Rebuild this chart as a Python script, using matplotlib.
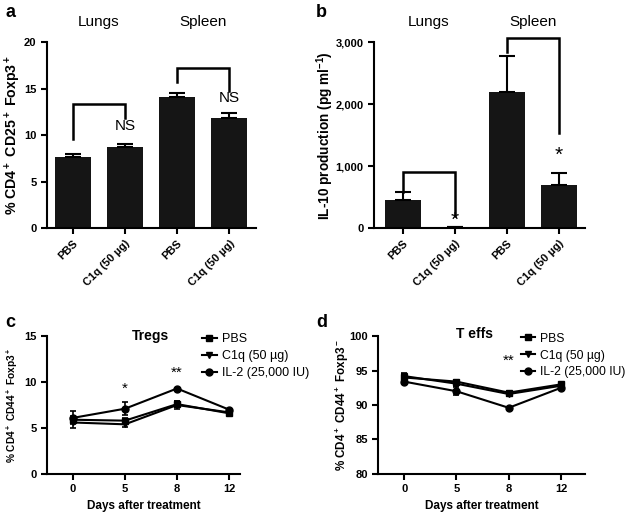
import numpy as np
import matplotlib
matplotlib.use('Agg')
import matplotlib.pyplot as plt
from matplotlib.lines import Line2D

plt.rcParams['font.family'] = ['Liberation Sans', 'DejaVu Sans']
plt.rcParams['mathtext.fontset'] = 'custom'
plt.rcParams['mathtext.rm'] = 'Liberation Sans:bold'
plt.rcParams['mathtext.bf'] = 'Liberation Sans:bold'
plt.rcParams['mathtext.default'] = 'bf'

# ---- data ----
bar_labels = ['PBS', 'C1q (50 µg)', 'PBS', 'C1q (50 µg)']
tregs_pct = [7.7, 8.7, 14.1, 11.9]
tregs_err = [0.3, 0.3, 0.4, 0.5]
il10 = [455, 15, 2190, 690]
il10_err = [125, 0, 580, 200]

days = ['0', '5', '8', '12']
treg_pbs = [5.9, 5.8, 7.6, 6.6]
treg_pbs_err = [0.4, 0.3, 0.3, 0.2]
treg_c1q = [5.6, 5.4, 7.5, 6.7]
treg_c1q_err = [0.6, 0.3, 0.4, 0.2]
treg_il2 = [6.1, 7.1, 9.3, 7.0]
treg_il2_err = [0.7, 0.7, 0.1, 0.1]

teff_pbs = [94.0, 93.4, 91.8, 93.0]
teff_pbs_err = [0.5, 0.3, 0.3, 0.2]
teff_c1q = [94.2, 93.1, 91.6, 92.8]
teff_c1q_err = [0.4, 0.3, 0.3, 0.2]
teff_il2 = [93.4, 92.0, 89.6, 92.5]
teff_il2_err = [0.3, 0.6, 0.1, 0.2]

fig = plt.figure(figsize=(6.25, 5.14), dpi=100)


def style(ax):
    for s in ['top', 'right']:
        ax.spines[s].set_visible(False)
    for s in ['left', 'bottom']:
        ax.spines[s].set_linewidth(1.5)
    ax.tick_params(width=1.5, length=4, labelsize=8)
    for t in ax.get_yticklabels() + ax.get_xticklabels():
        t.set_fontweight('bold')


def ylab(ax, text, size, xpos):
    ax.set_ylabel(text, fontsize=size, fontweight='bold')
    ax.yaxis.set_label_coords(xpos, 0.5)
    ax.yaxis.label.set_verticalalignment('center')


def bracket(ax, x0, x1, y_top, y0, y1):
    ax.plot([x0, x0, x1, x1], [y0, y_top, y_top, y1], color='black', lw=1.8,
            clip_on=False, solid_joinstyle='miter')


# ---- panel a ----
ax = fig.add_axes([0.075, 0.556, 0.335, 0.362])
x = np.arange(4)
ax.bar(x, tregs_pct, width=0.69, color='#151515')
ax.errorbar(x, tregs_pct, yerr=[np.zeros(4), tregs_err], fmt='none', ecolor='black',
            capsize=6, elinewidth=1.5, capthick=1.5)
ax.set_xlim(-0.5, 3.52)
ax.set_ylim(0, 20)
ax.set_yticks([0, 5, 10, 15, 20])
ax.set_xticks(x)
ax.set_xticklabels(bar_labels, rotation=45, ha='right', rotation_mode='anchor')
ylab(ax, '% CD4$^+$ CD25$^+$ Foxp3$^+$', 10.2, -0.163)
style(ax)
bracket(ax, 0, 1, 13.4, 9.6, 11.9)
bracket(ax, 2, 3, 17.2, 15.7, 14.8)
ax.text(1, 10.2, 'NS', ha='center', va='bottom', fontsize=11)
ax.text(3, 13.2, 'NS', ha='center', va='bottom', fontsize=11)
ax.text(0.5, 1.07, 'Lungs', transform=ax.get_xaxis_transform(), ha='center', va='bottom', fontsize=11)
ax.text(2.5, 1.07, 'Spleen', transform=ax.get_xaxis_transform(), ha='center', va='bottom', fontsize=11)
fig.text(0.008, 0.975, 'a', fontsize=13, fontweight='bold', va='center')

# ---- panel b ----
ax = fig.add_axes([0.598, 0.556, 0.338, 0.362])
ax.bar(x, il10, width=0.69, color='#151515')
ax.errorbar(x, il10, yerr=[np.zeros(4), il10_err], fmt='none', ecolor='black',
            capsize=6, elinewidth=1.5, capthick=1.5)
ax.set_xlim(-0.56, 3.5)
ax.set_ylim(0, 3000)
ax.set_yticks([0, 1000, 2000, 3000])
ax.set_yticklabels(['0', '1,000', '2,000', '3,000'])
ax.set_xticks(x)
ax.set_xticklabels(bar_labels, rotation=45, ha='right', rotation_mode='anchor')
ylab(ax, 'IL-10 production (pg ml$^{-1}$)', 9.8, -0.232)
style(ax)
bracket(ax, 0, 1, 910, 590, 190)
bracket(ax, 2, 3, 3070, 2840, 1530)
ax.text(1, -30, '*', ha='center', va='bottom', fontsize=15)
ax.text(3, 1030, '*', ha='center', va='bottom', fontsize=15)
ax.text(0.5, 1.07, 'Lungs', transform=ax.get_xaxis_transform(), ha='center', va='bottom', fontsize=11)
ax.text(2.5, 1.07, 'Spleen', transform=ax.get_xaxis_transform(), ha='center', va='bottom', fontsize=11)
fig.text(0.506, 0.975, 'b', fontsize=13, fontweight='bold', va='center')


def line_panel(ax, pbs, pbs_e, c1q, c1q_e, il2, il2_e, leg_x, leg_fs):
    xx = np.arange(4)
    kw = dict(color='black', lw=1.5, capsize=2.5, elinewidth=1.2, capthick=1.2, markersize=5)
    ax.errorbar(xx, pbs, yerr=pbs_e, marker='s', label='PBS', **kw)
    ax.errorbar(xx, c1q, yerr=c1q_e, marker='v', label='C1q (50 µg)', **kw)
    ax.errorbar(xx, il2, yerr=il2_e, marker='o', label='IL-2 (25,000 IU)', **kw)
    ax.set_xticks(xx)
    ax.set_xticklabels(days)
    ax.set_xlabel('Days after treatment', fontsize=8.5, fontweight='bold')
    handles = [Line2D([], [], color='black', marker=m, lw=1.5, markersize=5) for m in ['s', 'v', 'o']]
    ax.legend(handles, ['PBS', 'C1q (50 µg)', 'IL-2 (25,000 IU)'], loc='upper left',
              bbox_to_anchor=(leg_x, 1.06), frameon=False, fontsize=leg_fs,
              handlelength=1.2, handletextpad=0.45, labelspacing=0.4, borderaxespad=0)
    style(ax)


# ---- panel c ----
ax = fig.add_axes([0.075, 0.078, 0.309, 0.268])
line_panel(ax, treg_pbs, treg_pbs_err, treg_c1q, treg_c1q_err, treg_il2, treg_il2_err, 0.775, 9)
ax.set_xlim(-0.5, 3.21)
ax.set_ylim(0, 15)
ax.set_yticks([0, 5, 10, 15])
ylab(ax, '% CD4$^+$ CD44$^+$ Foxp3$^+$', 7.3, -0.181)
for t in ax.get_yticklabels():
    t.set_fontweight('bold')
ax.text(1, 8.5, '*', ha='center', va='bottom', fontsize=11)
ax.text(2, 10.3, '**', ha='center', va='bottom', fontsize=11)
ax.text(1.5, 15, 'Tregs', ha='center', va='center', fontsize=10, fontweight='bold')
fig.text(0.008, 0.372, 'c', fontsize=13, fontweight='bold', va='center')

# ---- panel d ----
ax = fig.add_axes([0.605, 0.078, 0.331, 0.268])
line_panel(ax, teff_pbs, teff_pbs_err, teff_c1q, teff_c1q_err, teff_il2, teff_il2_err, 0.665, 8.7)
ax.set_xlim(-0.5, 3.46)
ax.set_ylim(80, 100)
ax.set_yticks([80, 85, 90, 95, 100])
ylab(ax, '% CD4$^+$ CD44$^+$ Foxp3$^-$', 8.4, -0.174)
for t in ax.get_yticklabels():
    t.set_fontweight('bold')
ax.text(2, 95.4, '**', ha='center', va='bottom', fontsize=11)
ax.text(1.35, 100.3, 'T effs', ha='center', va='center', fontsize=10, fontweight='bold')
fig.text(0.506, 0.372, 'd', fontsize=13, fontweight='bold', va='center')

fig.savefig('out.png', dpi=100)
